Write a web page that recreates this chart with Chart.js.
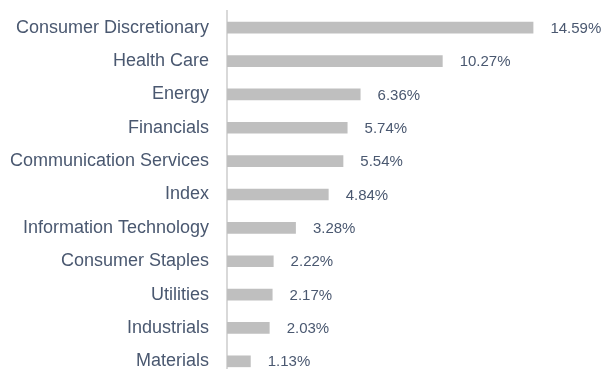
<!DOCTYPE html>
<html>
<head>
<meta charset="utf-8">
<script src="https://cdn.jsdelivr.net/npm/chart.js@4"></script>
<style>
  html, body { margin: 0; padding: 0; background: #ffffff; overflow: hidden; }
  #sectorChart { display: block; }
</style>
</head>
<body>
<canvas id="sectorChart" width="605" height="378"></canvas>
<script>
// sector weights, largest first
const sectors = [
    "Consumer Discretionary",
    "Health Care",
    "Energy",
    "Financials",
    "Communication Services",
    "Index",
    "Information Technology",
    "Consumer Staples",
    "Utilities",
    "Industrials",
    "Materials"
];
const weights = [14.59, 10.27, 6.36, 5.74, 5.54, 4.84, 3.28, 2.22, 2.17, 2.03, 1.13];

const textColor = "#4a5870";
const fontFamily = "'Liberation Sans', Arial, sans-serif";

/**
 * 막대 끝에 값 라벨 그리기
 */
const valueLabels = {
    id: "valueLabels",
    afterDatasetsDraw(chart) {
        const ctx = chart.ctx;
        const meta = chart.getDatasetMeta(0);
        ctx.save();
        ctx.font = "15px " + fontFamily;
        ctx.fillStyle = textColor;
        ctx.textAlign = "left";
        ctx.textBaseline = "middle";
        meta.data.forEach((bar, i) => {
            let value = chart.data.datasets[0].data[i];
            ctx.fillText(value.toFixed(2) + "%", bar.x + 17, bar.y + 1);
        });
        ctx.restore();
    }
};

let ctx = document.getElementById("sectorChart").getContext("2d");
let sectorChart = new Chart(ctx, {
    type: "bar",
    data: {
        labels: sectors,
        datasets: [{
            data: weights,
            backgroundColor: "#bfbfbf",
            borderWidth: 0,
            barPercentage: 0.35,
            categoryPercentage: 1
        }]
    },
    options: {
        indexAxis: "y",
        responsive: false,
        animation: false,
        devicePixelRatio: 1,
        layout: {
            padding: { top: 11, right: 0, bottom: 0, left: 0 }
        },
        plugins: {
            legend: { display: false },
            tooltip: { enabled: false }
        },
        scales: {
            x: {
                display: false,
                min: 0,
                max: 18
            },
            y: {
                grid: { display: false, drawTicks: false },
                border: { display: true, color: "#d9d9d9", width: 2 },
                ticks: {
                    color: textColor,
                    padding: 18,
                    font: { family: fontFamily, size: 18 }
                },
                afterFit(scale) {
                    // 축 너비 고정, 위아래 라벨 여백 제거
                    scale.width = 227;
                    scale.paddingTop = 0;
                    scale.paddingBottom = 0;
                }
            }
        }
    },
    plugins: [valueLabels]
});
</script>
</body>
</html>
